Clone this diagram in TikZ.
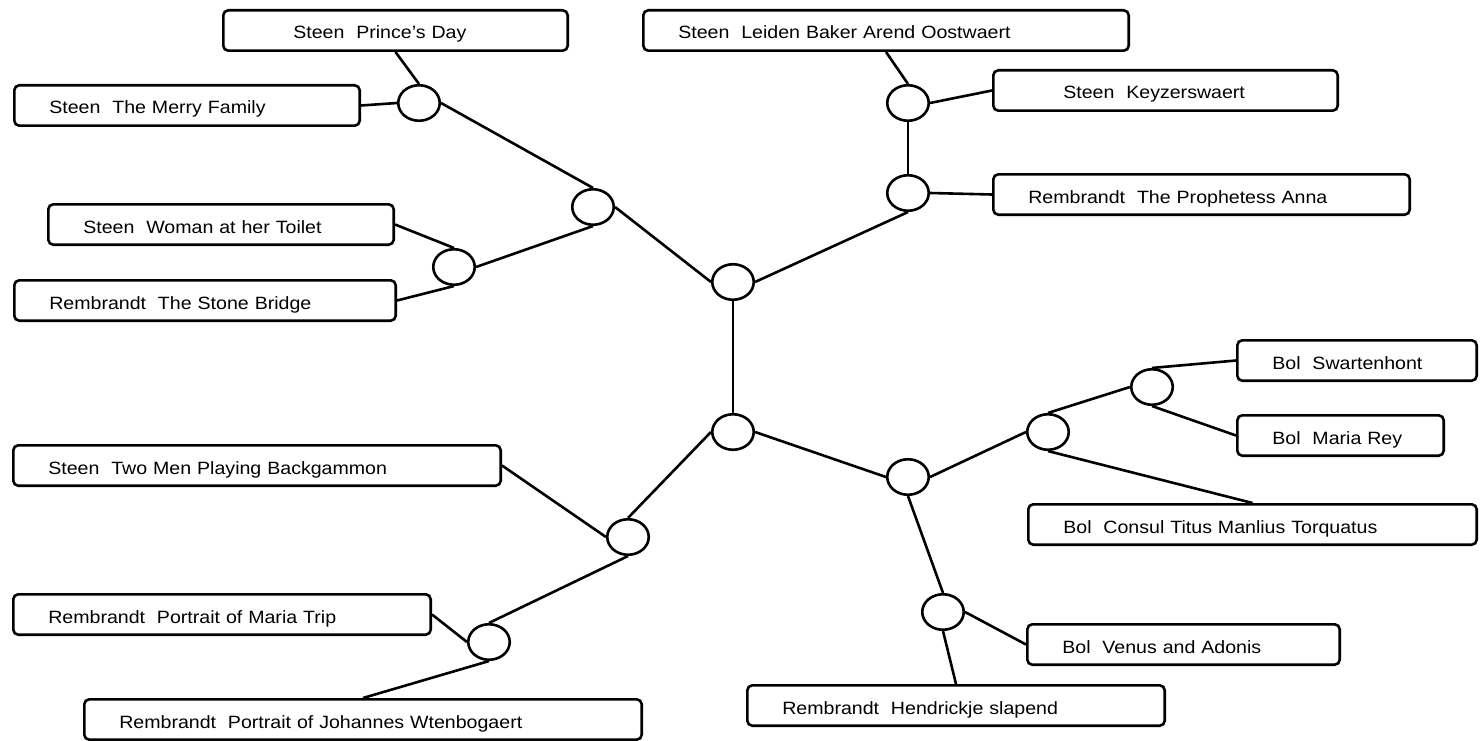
\documentclass[tikz,border=0pt]{standalone}
\usepackage{fontspec}
\setmainfont{Liberation Sans}[FakeStretch=1.1]
\usetikzlibrary{shapes.geometric}
\begin{document}
\begin{tikzpicture}[x=1pt,y=-1pt,line width=2.6pt,
    card/.style={draw,rounded corners=5pt,anchor=north west,minimum height=40.4pt,
      inner xsep=35pt,inner ysep=2pt,text height=17pt,text depth=0pt,align=left,
      text width={#1-72.6pt},font=\fontsize{17.8}{20}\selectfont},
    knot/.style={draw,ellipse,minimum width=41.5pt,minimum height=35.5pt,inner sep=0pt}]
  \useasboundingbox (0,0) rectangle (1480,741);
  % paintings
  \node[card=347] (prince) at (222,9) {\hspace*{35pt}Steen\ \ Prince's Day};
  \node[card=348] (merry) at (13,84) {Steen\ \ The Merry Family};
  \node[card=348] (woman) at (47,203) {Steen\ \ Woman at her Toilet};
  \node[card=384] (bridge) at (13,279) {Rembrandt\ \ The Stone Bridge};
  \node[card=488] (leiden) at (642,9) {Steen\ \ Leiden Baker Arend Oostwaert};
  \node[card=347] (keyzer) at (992,69) {\hspace*{35pt}Steen\ \ Keyzerswaert};
  \node[card=419] (anna) at (992,173) {Rembrandt\ \ The Prophetess Anna};
  \node[card=242] (swart) at (1236,339) {Bol\ \ Swartenhont};
  \node[card=209] (rey) at (1236,414) {Bol\ \ Maria Rey};
  \node[card=451] (consul) at (1027,503) {Bol\ \ Consul Titus Manlius Torquatus};
  \node[card=315] (venus) at (1026,623) {Bol\ \ Venus and Adonis};
  \node[card=420] (hendr) at (746,684) {Rembrandt\ \ Hendrickje slapend};
  \node[card=490] (backgammon) at (12,444) {Steen\ \ Two Men Playing Backgammon};
  \node[card=420] (trip) at (12,593) {Rembrandt\ \ Portrait of Maria Trip};
  \node[card=560] (wtenb) at (83,698) {Rembrandt\ \ Portrait of Johannes Wtenbogaert};
  % junctions
  \node[knot] (kmerry) at (419,103) {};
  \node[knot] (ksteen) at (593,207) {};
  \node[knot] (kbridge) at (454,267) {};
  \node[knot] (ktop) at (733,282) {};
  \node[knot] (kanna) at (908,193) {};
  \node[knot] (kkeyzer) at (908,103) {};
  \node[knot] (kbottom) at (733,432) {};
  \node[knot] (kback) at (628,537) {};
  \node[knot] (ktrip) at (489,642) {};
  \node[knot] (kright) at (908,477) {};
  \node[knot] (kbol) at (1048,432) {};
  \node[knot] (kswart) at (1152,387) {};
  \node[knot] (kvenus) at (943,612) {};
  \foreach \a/\b in {prince.south/kmerry.north, merry.east/kmerry.west,
      kmerry.east/ksteen.north, woman.east/kbridge.north, bridge.east/kbridge.south,
      kbridge.east/ksteen.south, ksteen.east/ktop.west,
      leiden.south/kkeyzer.north, kkeyzer.east/keyzer.west, kkeyzer.south/kanna.north,
      kanna.east/anna.west, kanna.south/ktop.east, ktop.south/kbottom.north,
      kbottom.west/kback.north, backgammon.east/kback.west, kback.south/ktrip.north,
      trip.east/ktrip.west, ktrip.south/wtenb.north,
      kbottom.east/kright.west, kright.east/kbol.west, kbol.north/kswart.west,
      kswart.north/swart.west, kswart.south/rey.west, kbol.south/consul.north,
      kright.south/kvenus.north, kvenus.east/venus.west, kvenus.south/hendr.north}
    \draw (\a) -- (\b);
\end{tikzpicture}
\end{document}
